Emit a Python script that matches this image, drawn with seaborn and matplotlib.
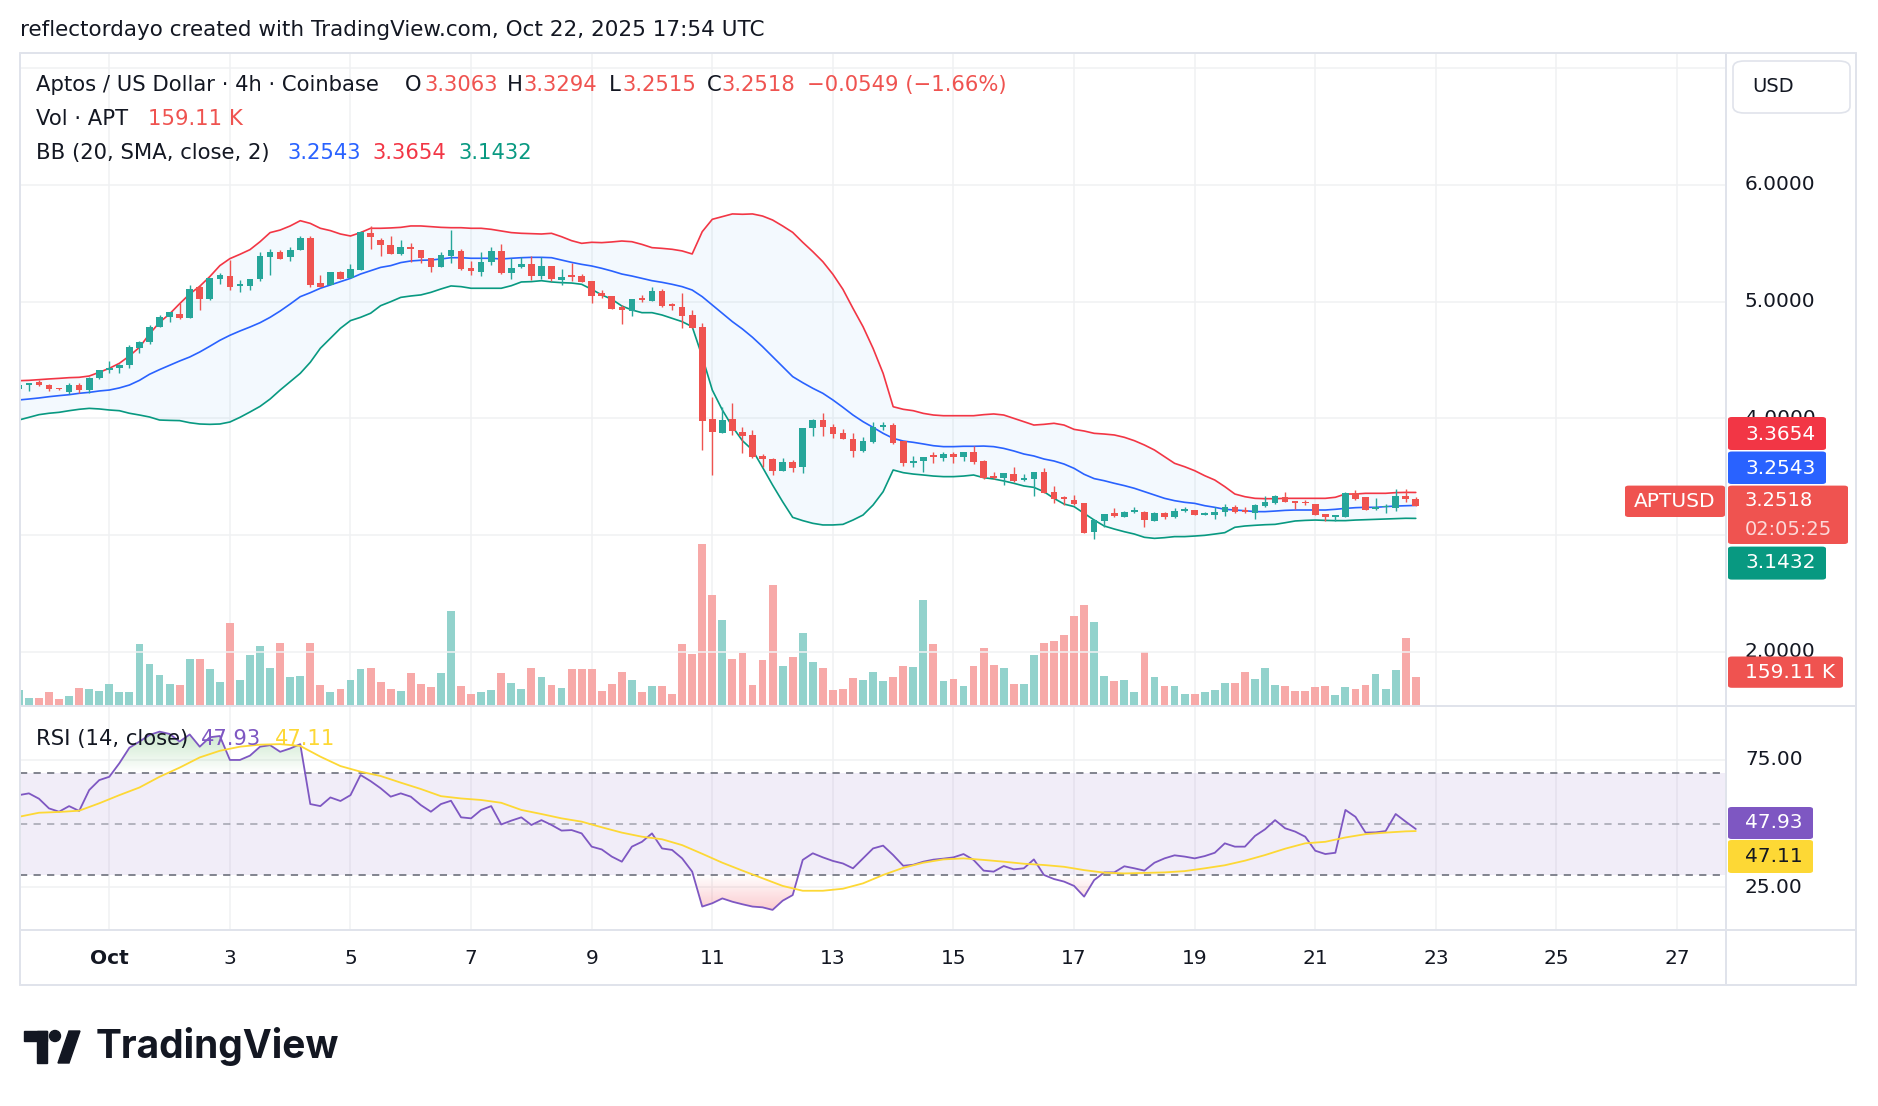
import numpy as np
import matplotlib
matplotlib.use("Agg")
import matplotlib.pyplot as plt
import matplotlib.transforms as mtransforms
from matplotlib.colors import LinearSegmentedColormap
from matplotlib.patches import FancyBboxPatch, Rectangle, Circle, Polygon
from matplotlib.lines import Line2D
from matplotlib.path import Path
import seaborn as sns

sns.set_theme(style="white")
plt.rcParams['font.family'] = ['DejaVu Sans']

# 4h candles, bar 0 = Oct 1 00:00 UTC
first_bar = -9
opens = [4.249, 4.283, 4.315, 4.286, 4.260, 4.229, 4.286, 4.243, 4.343, 4.415,
         4.435, 4.455, 4.600, 4.657, 4.786, 4.866, 4.895, 4.863, 5.123, 5.026,
         5.192, 5.220, 5.135, 5.135, 5.192, 5.386, 5.426, 5.380, 5.443, 5.549,
         5.157, 5.143, 5.255, 5.200, 5.272, 5.591, 5.529, 5.483, 5.406, 5.472,
         5.443, 5.372, 5.300, 5.392, 5.437, 5.290, 5.258, 5.343, 5.437, 5.249,
         5.300, 5.320, 5.220, 5.306, 5.186, 5.226, 5.220, 5.177, 5.072, 5.049,
         4.958, 4.920, 5.035, 5.009, 5.092, 4.980, 4.958, 4.883, 4.780, 3.995,
         3.872, 3.992, 3.886, 3.858, 3.678, 3.649, 3.552, 3.629, 3.581, 3.915,
         3.986, 3.924, 3.872, 3.824, 3.724, 3.801, 3.924, 3.943, 3.806, 3.621,
         3.638, 3.684, 3.658, 3.695, 3.666, 3.709, 3.638, 3.509, 3.492, 3.523,
         3.472, 3.481, 3.541, 3.366, 3.323, 3.300, 3.272, 3.030, 3.124, 3.192,
         3.158, 3.198, 3.195, 3.124, 3.192, 3.152, 3.209, 3.215, 3.175, 3.175,
         3.198, 3.238, 3.215, 3.186, 3.249, 3.278, 3.323, 3.292, 3.286, 3.266,
         3.180, 3.158, 3.158, 3.358, 3.323, 3.224, 3.238, 3.229, 3.335, 3.3063]
highs = [4.292, 4.305, 4.326, 4.295, 4.262, 4.300, 4.300, 4.352, 4.418, 4.495,
         4.466, 4.626, 4.666, 4.800, 4.886, 4.910, 4.986, 5.143, 5.143, 5.200,
         5.249, 5.357, 5.186, 5.195, 5.430, 5.450, 5.443, 5.472, 5.560, 5.563,
         5.229, 5.258, 5.266, 5.323, 5.605, 5.649, 5.543, 5.563, 5.529, 5.506,
         5.443, 5.372, 5.429, 5.614, 5.455, 5.349, 5.430, 5.472, 5.494, 5.372,
         5.380, 5.392, 5.380, 5.306, 5.280, 5.329, 5.237, 5.177, 5.100, 5.049,
         4.969, 5.020, 5.058, 5.123, 5.106, 4.986, 5.072, 4.929, 4.815, 4.186,
         4.100, 4.129, 3.929, 3.901, 3.695, 3.661, 3.658, 3.644, 3.915, 3.998,
         4.043, 3.949, 3.906, 3.872, 3.844, 3.966, 3.972, 3.958, 3.806, 3.678,
         3.672, 3.715, 3.715, 3.715, 3.715, 3.764, 3.644, 3.541, 3.529, 3.581,
         3.520, 3.538, 3.572, 3.420, 3.335, 3.341, 3.272, 3.135, 3.178, 3.229,
         3.209, 3.241, 3.206, 3.198, 3.195, 3.229, 3.238, 3.215, 3.195, 3.241,
         3.266, 3.258, 3.238, 3.266, 3.335, 3.343, 3.369, 3.292, 3.300, 3.266,
         3.180, 3.172, 3.372, 3.386, 3.323, 3.315, 3.266, 3.392, 3.392, 3.3294]
lows = [4.245, 4.238, 4.280, 4.238, 4.245, 4.209, 4.215, 4.215, 4.340, 4.392,
        4.386, 4.435, 4.563, 4.635, 4.780, 4.829, 4.855, 4.860, 4.929, 5.015,
        5.152, 5.100, 5.086, 5.100, 5.180, 5.229, 5.369, 5.352, 5.443, 5.123,
        5.123, 5.140, 5.195, 5.200, 5.270, 5.455, 5.392, 5.406, 5.400, 5.343,
        5.329, 5.257, 5.300, 5.329, 5.272, 5.229, 5.220, 5.314, 5.237, 5.197,
        5.286, 5.186, 5.197, 5.175, 5.146, 5.175, 5.170, 4.992, 5.029, 4.940,
        4.809, 4.878, 4.998, 5.009, 4.952, 4.929, 4.775, 4.772, 3.730, 3.515,
        3.872, 3.858, 3.700, 3.658, 3.581, 3.518, 3.552, 3.544, 3.535, 3.849,
        3.849, 3.829, 3.821, 3.666, 3.715, 3.786, 3.901, 3.781, 3.592, 3.581,
        3.544, 3.621, 3.638, 3.621, 3.638, 3.609, 3.484, 3.478, 3.426, 3.458,
        3.466, 3.338, 3.358, 3.278, 3.258, 3.258, 3.021, 2.964, 3.072, 3.158,
        3.158, 3.186, 3.072, 3.124, 3.135, 3.144, 3.195, 3.169, 3.169, 3.135,
        3.164, 3.192, 3.186, 3.141, 3.238, 3.266, 3.286, 3.221, 3.258, 3.172,
        3.124, 3.124, 3.158, 3.300, 3.215, 3.215, 3.186, 3.209, 3.286, 3.2515]
closes = [4.286, 4.303, 4.283, 4.249, 4.249, 4.286, 4.243, 4.343, 4.415, 4.435,
          4.458, 4.615, 4.657, 4.786, 4.866, 4.909, 4.863, 5.106, 5.026, 5.200,
          5.229, 5.129, 5.152, 5.192, 5.392, 5.430, 5.369, 5.443, 5.549, 5.143,
          5.129, 5.255, 5.198, 5.278, 5.597, 5.551, 5.483, 5.406, 5.469, 5.455,
          5.372, 5.300, 5.400, 5.443, 5.280, 5.266, 5.343, 5.435, 5.249, 5.286,
          5.323, 5.223, 5.306, 5.192, 5.215, 5.209, 5.172, 5.049, 5.049, 4.940,
          4.929, 5.020, 5.015, 5.092, 4.963, 4.963, 4.878, 4.772, 3.980, 3.886,
          3.986, 3.895, 3.849, 3.672, 3.649, 3.552, 3.629, 3.572, 3.915, 3.986,
          3.929, 3.866, 3.821, 3.724, 3.806, 3.929, 3.943, 3.792, 3.615, 3.638,
          3.666, 3.666, 3.695, 3.666, 3.709, 3.629, 3.492, 3.492, 3.529, 3.466,
          3.492, 3.538, 3.363, 3.306, 3.306, 3.266, 3.021, 3.129, 3.178, 3.166,
          3.195, 3.215, 3.129, 3.192, 3.152, 3.209, 3.226, 3.169, 3.189, 3.198,
          3.238, 3.198, 3.198, 3.258, 3.286, 3.335, 3.286, 3.272, 3.272, 3.172,
          3.158, 3.172, 3.364, 3.306, 3.215, 3.243, 3.249, 3.335, 3.3067, 3.2518]
volume_k = [87.8, 43.9, 43.9, 76.8, 38.4, 54.9, 98.8, 93.3, 82.3, 120.7,
            76.8, 76.8, 340.2, 230.5, 170.1, 120.7, 115.2, 257.9, 257.9, 203.0,
            131.7, 455.4, 142.7, 279.8, 329.2, 208.5, 345.7, 159.1, 164.6, 345.7,
            115.2, 76.8, 93.3, 142.7, 203.0, 208.5, 131.7, 93.3, 82.3, 181.1,
            120.7, 104.3, 181.1, 521.3, 109.7, 65.8, 76.8, 87.8, 181.1, 126.2,
            93.3, 208.5, 159.1, 115.2, 98.8, 203.0, 203.0, 203.0, 82.3, 120.7,
            186.6, 142.7, 76.8, 109.7, 109.7, 65.8, 340.2, 285.3, 888.9, 609.1,
            471.9, 257.9, 290.8, 115.2, 252.4, 663.9, 219.5, 268.9, 400.6, 241.4,
            208.5, 87.8, 93.3, 153.6, 142.7, 186.6, 137.2, 159.1, 219.5, 214.0,
            581.6, 340.2, 137.2, 148.1, 109.7, 219.5, 318.2, 225.0, 208.5, 120.7,
            120.7, 279.8, 345.7, 356.7, 389.6, 493.8, 554.2, 460.9, 164.6, 137.2,
            142.7, 76.8, 296.3, 159.1, 109.7, 109.7, 65.8, 65.8, 76.8, 87.8,
            126.2, 126.2, 186.6, 148.1, 208.5, 115.2, 109.7, 82.3, 82.3, 104.3,
            109.7, 60.4, 104.3, 93.3, 115.2, 175.6, 93.3, 197.5, 373.1, 159.11]
bb_upper = [4.323, 4.326, 4.332, 4.338, 4.343, 4.349, 4.352, 4.363, 4.395, 4.429,
            4.472, 4.535, 4.609, 4.723, 4.823, 4.895, 4.983, 5.066, 5.132, 5.215,
            5.309, 5.369, 5.406, 5.446, 5.514, 5.592, 5.614, 5.649, 5.694, 5.671,
            5.629, 5.609, 5.580, 5.563, 5.592, 5.629, 5.629, 5.632, 5.637, 5.649,
            5.649, 5.643, 5.637, 5.634, 5.634, 5.629, 5.629, 5.620, 5.606, 5.592,
            5.586, 5.583, 5.580, 5.586, 5.557, 5.523, 5.500, 5.509, 5.506, 5.512,
            5.520, 5.514, 5.491, 5.463, 5.457, 5.449, 5.435, 5.409, 5.600, 5.706,
            5.729, 5.752, 5.749, 5.752, 5.734, 5.700, 5.649, 5.594, 5.509, 5.429,
            5.343, 5.235, 5.106, 4.943, 4.786, 4.600, 4.386, 4.100, 4.078, 4.066,
            4.043, 4.029, 4.023, 4.023, 4.023, 4.023, 4.032, 4.038, 4.029, 4.001,
            3.972, 3.943, 3.949, 3.958, 3.943, 3.906, 3.892, 3.872, 3.866, 3.858,
            3.838, 3.809, 3.772, 3.729, 3.672, 3.615, 3.586, 3.552, 3.509, 3.472,
            3.415, 3.352, 3.329, 3.315, 3.312, 3.312, 3.315, 3.315, 3.315, 3.315,
            3.315, 3.324, 3.352, 3.352, 3.358, 3.358, 3.358, 3.364, 3.366, 3.3654]
bb_basis = [4.158, 4.166, 4.175, 4.186, 4.195, 4.203, 4.215, 4.223, 4.235, 4.243,
            4.261, 4.286, 4.326, 4.378, 4.418, 4.455, 4.492, 4.526, 4.569, 4.618,
            4.669, 4.712, 4.749, 4.783, 4.820, 4.866, 4.920, 4.980, 5.043, 5.077,
            5.115, 5.143, 5.172, 5.200, 5.237, 5.266, 5.294, 5.309, 5.335, 5.349,
            5.355, 5.357, 5.366, 5.377, 5.377, 5.372, 5.372, 5.372, 5.366, 5.372,
            5.377, 5.380, 5.380, 5.377, 5.357, 5.337, 5.320, 5.306, 5.286, 5.263,
            5.237, 5.220, 5.200, 5.180, 5.166, 5.149, 5.129, 5.100, 5.043, 4.972,
            4.901, 4.829, 4.766, 4.695, 4.615, 4.529, 4.443, 4.358, 4.306, 4.258,
            4.215, 4.158, 4.095, 4.029, 3.972, 3.923, 3.872, 3.829, 3.806, 3.795,
            3.781, 3.766, 3.758, 3.758, 3.761, 3.761, 3.763, 3.758, 3.743, 3.721,
            3.695, 3.678, 3.652, 3.635, 3.609, 3.572, 3.521, 3.484, 3.466, 3.444,
            3.424, 3.401, 3.372, 3.344, 3.315, 3.295, 3.281, 3.272, 3.252, 3.238,
            3.221, 3.215, 3.209, 3.201, 3.201, 3.206, 3.212, 3.215, 3.215, 3.215,
            3.215, 3.221, 3.229, 3.235, 3.238, 3.238, 3.244, 3.249, 3.252, 3.2543]
bb_lower = [3.986, 4.009, 4.032, 4.044, 4.052, 4.066, 4.078, 4.086, 4.081, 4.072,
            4.066, 4.044, 4.029, 4.012, 3.986, 3.983, 3.981, 3.963, 3.952, 3.949,
            3.952, 3.969, 4.009, 4.055, 4.103, 4.166, 4.243, 4.315, 4.386, 4.481,
            4.601, 4.686, 4.772, 4.838, 4.866, 4.901, 4.966, 5.000, 5.037, 5.049,
            5.058, 5.080, 5.109, 5.135, 5.129, 5.115, 5.115, 5.115, 5.115, 5.137,
            5.169, 5.172, 5.180, 5.169, 5.163, 5.160, 5.149, 5.106, 5.058, 5.021,
            4.963, 4.929, 4.906, 4.906, 4.886, 4.857, 4.829, 4.786, 4.529, 4.243,
            4.072, 3.929, 3.809, 3.729, 3.581, 3.429, 3.286, 3.152, 3.124, 3.101,
            3.087, 3.087, 3.092, 3.129, 3.172, 3.258, 3.372, 3.558, 3.535, 3.523,
            3.515, 3.506, 3.501, 3.501, 3.506, 3.515, 3.492, 3.481, 3.464, 3.444,
            3.421, 3.409, 3.372, 3.315, 3.266, 3.244, 3.186, 3.129, 3.078, 3.052,
            3.029, 3.009, 2.981, 2.972, 2.978, 2.987, 2.987, 2.992, 2.998, 3.009,
            3.021, 3.067, 3.078, 3.084, 3.089, 3.092, 3.106, 3.121, 3.126, 3.129,
            3.126, 3.124, 3.124, 3.129, 3.132, 3.135, 3.138, 3.141, 3.144, 3.1432]
rsi = [61.2, 61.9, 59.8, 56.0, 54.7, 56.9, 55.0, 63.2, 67.1, 68.4,
       73.7, 79.8, 82.2, 84.8, 86.1, 85.2, 82.2, 85.0, 80.2, 83.9,
       84.4, 75.0, 75.0, 76.7, 80.2, 80.8, 78.2, 79.5, 81.2, 57.7,
       56.9, 60.3, 58.9, 61.2, 69.1, 66.7, 63.9, 60.6, 61.9, 60.6,
       57.3, 54.7, 57.7, 59.0, 52.5, 52.1, 55.4, 56.9, 49.7, 51.2,
       52.5, 49.5, 51.4, 49.5, 47.3, 47.5, 46.2, 41.0, 39.9, 37.1,
       35.1, 41.0, 42.9, 46.2, 40.3, 39.7, 36.4, 31.2, 17.5, 18.8,
       20.7, 19.4, 18.4, 17.5, 17.2, 16.2, 19.8, 22.0, 35.8, 38.4,
       36.8, 35.4, 34.4, 32.5, 36.4, 40.3, 41.4, 37.7, 33.5, 33.9,
       35.1, 35.9, 36.3, 36.8, 38.1, 35.8, 31.6, 31.2, 33.4, 32.1,
       32.5, 36.0, 29.9, 28.3, 27.3, 25.6, 21.4, 27.9, 30.9, 30.9,
       33.3, 32.5, 31.6, 34.7, 36.4, 37.6, 37.1, 36.4, 37.3, 38.6,
       42.3, 41.0, 41.0, 45.2, 47.8, 51.4, 48.2, 46.9, 44.9, 39.4,
       38.1, 38.6, 55.4, 52.7, 46.5, 46.6, 47.1, 53.8, 50.8, 47.93]
# RSI smoothing line, read every second bar (bars -9, -7, ..., 129) plus the last bar
rsi_ma = [52.7, 54.3, 54.6, 55.1, 58.0, 61.2, 64.2, 68.4, 72.0, 76.0,
          78.6, 80.2, 81.0, 81.2, 80.5, 76.3, 72.6, 70.4, 68.7, 66.1,
          63.6, 60.8, 59.9, 59.3, 58.2, 55.4, 53.8, 52.1, 50.8, 48.6,
          46.5, 44.9, 43.9, 41.6, 38.2, 34.7, 31.6, 28.6, 25.6, 23.7,
          23.7, 24.5, 26.6, 29.9, 32.7, 34.7, 36.0, 36.4, 35.8, 35.1,
          34.3, 33.8, 33.1, 31.8, 30.8, 30.5, 30.7, 30.9, 31.4, 32.5,
          33.7, 35.5, 37.7, 40.2, 42.3, 42.9, 44.6, 45.9, 46.5, 47.0, 47.11]
day_labels = ["Oct", "3", "5", "7", "9", "11", "13", "15", "17", "19", "21", "23", "25", "27"]
price_levels = [2, 3, 4, 5, 6, 7]
price_labelled = [2, 4, 5, 6]   # 3 and 7 sit under the price tags / USD button
rsi_levels = [25, 75]

UP, DOWN = '#26a69a', '#ef5350'
DARK = '#131722'
GRID = '#f0f1f3'
BORDER = '#e0e3eb'
LEG = ['DejaVu Sans']

W, H = 1878, 1106
fig = plt.figure(figsize=(W / 100, H / 100), dpi=100)
fig.patch.set_facecolor('white')


def fbox(x0, y0, x1, y1):
    return [x0 / W, 1 - y1 / H, (x1 - x0) / W, (y1 - y0) / H]


def ftext(x, y, s, color=DARK, size=15.2, ha='left', family=LEG, **kw):
    fig.text(x / W, 1 - y / H, s, color=color, fontsize=size, ha=ha, va='center',
             family=family, **kw)


bars = np.arange(first_bar, first_bar + len(closes))
o, h, l, c = (np.array(a) for a in (opens, highs, lows, closes))
is_up = c >= o
cols = np.where(is_up, UP, DOWN)
XL = (-8.886, 160.87)

# --- panes ---
ax_vol = fig.add_axes(fbox(20, 53, 1726, 706))
ax = fig.add_axes(fbox(20, 53, 1726, 706))
ax_rsi = fig.add_axes(fbox(20, 706, 1726, 930))
for a in (ax_vol, ax, ax_rsi):
    a.set_axis_off()
    a.set_xlim(*XL)
ax.set_ylim(1.5356, 7.131)
ax_vol.set_ylim(0, 3583)
ax_rsi.set_ylim(8.31, 96.16)

tick_bars = np.arange(len(day_labels)) * 12
for tb in tick_bars:
    ax_vol.axvline(tb, color=GRID, lw=1.1, zorder=0)
    ax_rsi.axvline(tb, color=GRID, lw=1.1, zorder=0)
for p in price_levels:
    ax.axhline(p, color=GRID, lw=1.1, zorder=0)
for v in rsi_levels:
    ax_rsi.axhline(v, color=GRID, lw=1.1, zorder=0)

# volume
vol_cols = np.where(is_up, '#92d2cc', '#f7a9a8')
ax_vol.bar(bars, volume_k, width=0.78, color=vol_cols, linewidth=0, zorder=2)

# Bollinger bands
ax.fill_between(bars, bb_lower, bb_upper, color='#2196f3', alpha=0.05, lw=0, zorder=1)
sns.lineplot(x=bars, y=bb_upper, ax=ax, color='#f23645', linewidth=1.2, zorder=3)
sns.lineplot(x=bars, y=bb_basis, ax=ax, color='#2962ff', linewidth=1.2, zorder=3)
sns.lineplot(x=bars, y=bb_lower, ax=ax, color='#089981', linewidth=1.2, zorder=3)

# candles
ax.vlines(bars, l, h, colors=cols, lw=1.0, zorder=4)
body_lo = np.minimum(o, c)
body_h = np.maximum(np.abs(c - o), 0.008)
ax.bar(bars, body_h, bottom=body_lo, width=0.66, color=cols, linewidth=0, zorder=5)
ax.set_xlim(*XL)
ax.set_ylim(1.5356, 7.131)

# --- RSI pane ---
r = np.array(rsi)
ax_rsi.axhspan(30, 70, color='#7e57c2', alpha=0.1, lw=0, zorder=0.5)
for lvl, alpha in ((70, 1.0), (50, 0.55), (30, 1.0)):
    ax_rsi.axhline(lvl, color='#787b86', alpha=alpha, lw=1.3, dashes=(4, 3.5), zorder=1)

green = LinearSegmentedColormap.from_list('g', [(0.30, 0.69, 0.31, 0.0), (0.30, 0.69, 0.31, 0.55)])
red = LinearSegmentedColormap.from_list('r', [(0.95, 0.21, 0.27, 0.55), (0.95, 0.21, 0.27, 0.0)])
for cond, lo_, hi_, cmap in ((r > 70, 70, 100, green), (r < 30, 0, 30, red)):
    ref = 70 if lo_ == 70 else 30
    poly = ax_rsi.fill_between(bars, r, ref, where=cond, interpolate=True, color='none', lw=0)
    paths = poly.get_paths()
    if paths:
        im = ax_rsi.imshow(np.linspace(0, 1, 200).reshape(-1, 1), cmap=cmap, aspect='auto',
                           origin='lower', extent=[bars[0], bars[-1], lo_, hi_], zorder=1.5)
        im.set_clip_path(Path.make_compound_path(*paths), transform=ax_rsi.transData)

ma_bars = list(range(first_bar, bars[-1], 2)) + [int(bars[-1])]
sns.lineplot(x=bars, y=rsi, ax=ax_rsi, color='#7e57c2', linewidth=1.3, zorder=3)
sns.lineplot(x=ma_bars, y=rsi_ma, ax=ax_rsi, color='#fdd835', linewidth=1.3, zorder=3)
ax_rsi.set_xlim(*XL)
ax_rsi.set_ylim(8.31, 96.16)
ax_rsi.set_axis_off()
ax.set_axis_off()

# --- frame ---
for (x0, y0, x1, y1) in ((20, 53, 1856, 53), (20, 985, 1856, 985), (20, 53, 20, 985),
                         (1856, 53, 1856, 985), (1726, 53, 1726, 985),
                         (20, 706, 1856, 706), (20, 930, 1856, 930)):
    fig.add_artist(Line2D([x0 / W, x1 / W], [1 - y0 / H, 1 - y1 / H], color=BORDER,
                          lw=1.4, transform=fig.transFigure))

# --- axis labels ---
tr_main = mtransforms.blended_transform_factory(ax.transAxes, ax.transData)
tr_rsi = mtransforms.blended_transform_factory(ax_rsi.transAxes, ax_rsi.transData)
lab_x = (1745 - 20) / 1706
for p in price_labelled:
    ax.text(lab_x, p, f"{p:.4f}", transform=tr_main, ha='left', va='center',
            fontsize=14.5, color=DARK, clip_on=False, zorder=1)
for v in rsi_levels:
    ax_rsi.text(lab_x, v, f"{v:.2f}", transform=tr_rsi, ha='left', va='center',
                fontsize=14.5, color=DARK, clip_on=False, zorder=1)
tr_time = mtransforms.blended_transform_factory(ax_rsi.transData, ax_rsi.transAxes)
for tb, lab in zip(tick_bars, day_labels):
    ax_rsi.text(tb, -0.125, lab, transform=tr_time, ha='center', va='center', fontsize=14.5,
                color=DARK, fontweight='bold' if lab == 'Oct' else 'normal', clip_on=False)


def tag(x0, y0, x1, y1, color):
    fig.add_artist(FancyBboxPatch((x0 / W, 1 - y1 / H), (x1 - x0) / W, (y1 - y0) / H,
                                  boxstyle='round,pad=0,rounding_size=0.002', fc=color, ec='none',
                                  transform=fig.transFigure, zorder=10))


def tag_text(x, y, s, color='white', size=14.5):
    fig.text(x / W, 1 - y / H, s, color=color, fontsize=size, ha='left', va='center', zorder=11)


tag(1728, 417, 1826, 450, '#f23645'); tag_text(1745, 434, f"{bb_upper[-1]:.4f}")
tag(1728, 451.5, 1826, 484, '#2962ff'); tag_text(1745, 468, f"{bb_basis[-1]:.4f}")
tag(1728, 485.6, 1848, 544, '#ef5350'); tag_text(1745, 500, f"{closes[-1]:.4f}", size=14)
tag_text(1745, 529.5, "02:05:25", color='#fcd9d9', size=14)
tag(1625, 485.6, 1725, 517, '#ef5350')
fig.text(1675 / W, 1 - 501.5 / H, "APTUSD", color='white', fontsize=14.5, ha='center',
         va='center', zorder=11)
tag(1728, 546.6, 1826, 579.6, '#089981'); tag_text(1745, 563, f"{bb_lower[-1]:.4f}")
tag(1728, 656.5, 1843, 687.8, '#ef5350'); tag_text(1745, 672, f"{volume_k[-1]:.2f} K")
tag(1728, 807, 1813, 839, '#7e57c2'); tag_text(1745, 823, f"{rsi[-1]:.2f}")
tag(1728, 840, 1813, 873, '#fdd835'); tag_text(1745, 856, f"{rsi_ma[-1]:.2f}", color=DARK)

fig.add_artist(FancyBboxPatch((1733 / W, 1 - 113 / H), 117 / W, 52 / H,
                              boxstyle='round,pad=0,rounding_size=0.006', fc='white', ec=BORDER,
                              lw=1.2, transform=fig.transFigure, zorder=10))
fig.text(1773 / W, 1 - 87 / H, "USD", color=DARK, fontsize=14, ha='center', va='center', zorder=11)

# --- legends ---
ftext(20, 30, "reflectordayo created with TradingView.com, Oct 22, 2025 17:54 UTC", size=15.5)
chg = closes[-1] - closes[-2]
ftext(36, 85, "Aptos / US Dollar · 4h · Coinbase")
for lab, val, x_lab, x_val in (("O", opens[-1], 405, 424), ("H", highs[-1], 507, 523),
                               ("L", lows[-1], 609, 622), ("C", closes[-1], 707, 721)):
    ftext(x_lab, 85, lab)
    ftext(x_val, 85, f"{val:.4f}", color=DOWN)
ftext(807, 85, f"\u2212{abs(chg):.4f} (\u2212{abs(chg) / closes[-2] * 100:.2f}%)", color=DOWN)
ftext(36, 119, "Vol · APT")
ftext(148, 119, f"{volume_k[-1]:.2f} K", color=DOWN)
ftext(36, 153, "BB (20, SMA, close, 2)")
ftext(287, 153, f"{bb_basis[-1]:.4f}", color='#2962ff')
ftext(372, 153, f"{bb_upper[-1]:.4f}", color='#f23645')
ftext(458, 153, f"{bb_lower[-1]:.4f}", color='#089981')
ftext(36, 739, "RSI (14, close)")
ftext(201, 739, f"{rsi[-1]:.2f}", color='#7e57c2')
ftext(275, 739, f"{rsi_ma[-1]:.2f}", color='#fdd835')

# --- TradingView logo ---
for patch in (Rectangle((24, 1031), 23, 10), Rectangle((37, 1031), 10, 32),
              Circle((55, 1036), 5.5),
              Polygon([(58, 1063), (69, 1063), (80, 1031), (69, 1031)])):
    patch.set_transform(mtransforms.Affine2D().scale(1 / W, -1 / H).translate(0, 1) + fig.transFigure)
    patch.set_color(DARK)
    fig.add_artist(patch)
ftext(96, 1047, "TradingView", size=28, fontweight='bold', family=['Inter', 'DejaVu Sans'])

fig.savefig("out.png", dpi=100, facecolor='white')
